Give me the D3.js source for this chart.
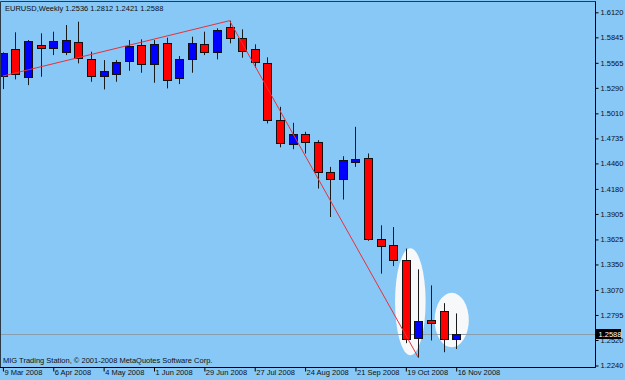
<!DOCTYPE html>
<html>
<head>
<meta charset="utf-8">
<script src="https://cdn.jsdelivr.net/npm/d3@7"></script>
<style>
  body { margin: 0; background: #87c8f6; }
  svg text { font-family: "Liberation Sans", Arial, sans-serif; font-size: 7.5px; fill: #111; }
</style>
</head>
<body>
<div id="okvir"></div>
<script>
// tjedne svijece EURUSD, ocitano sa slike
const tjedni = ["2008-03-09","2008-03-16","2008-03-23","2008-03-30","2008-04-06","2008-04-13","2008-04-20","2008-04-27",
  "2008-05-04","2008-05-11","2008-05-18","2008-05-25","2008-06-01","2008-06-08","2008-06-15","2008-06-22","2008-06-29",
  "2008-07-06","2008-07-13","2008-07-20","2008-07-27","2008-08-03","2008-08-10","2008-08-17","2008-08-24","2008-08-31",
  "2008-09-07","2008-09-14","2008-09-21","2008-09-28","2008-10-05","2008-10-12","2008-10-19","2008-10-26","2008-11-02",
  "2008-11-09","2008-11-16"];
const otvaranje = [1.5419,1.5716,1.5412,1.5760,1.5724,1.5687,1.5797,1.5606,1.5427,1.5449,1.5584,1.5760,1.5551,1.5779,1.5394,1.5614,1.5771,
  1.5687,1.5962,1.5841,1.5713,1.5566,1.4935,1.4671,1.4781,1.4697,1.4367,1.4286,1.4477,1.4514,1.3634,1.3560,1.3395,1.2533,1.2743,1.2837,1.2536];
const najvise = [1.5680,1.5900,1.5815,1.5889,1.5907,1.5980,1.6017,1.5687,1.5595,1.5595,1.5815,1.5823,1.5815,1.5841,1.5639,1.5852,1.5907,
  1.5944,1.6028,1.5933,1.5768,1.5625,1.5082,1.4906,1.4807,1.4715,1.4422,1.4539,1.4862,1.4569,1.3780,1.3761,1.3524,1.3296,1.3120,1.2925,1.2812];
const najnize = [1.5276,1.5383,1.5320,1.5412,1.5650,1.5650,1.5559,1.5357,1.5273,1.5357,1.5478,1.5456,1.5346,1.5284,1.5331,1.5456,1.5650,
  1.5603,1.5779,1.5621,1.5511,1.4899,1.4637,1.4616,1.4569,1.4184,1.3871,1.4063,1.4422,1.3610,1.3249,1.3332,1.2485,1.2325,1.2515,1.2386,1.2421];
const zatvaranje = [1.5672,1.5438,1.5804,1.5724,1.5804,1.5815,1.5621,1.5419,1.5478,1.5577,1.5753,1.5548,1.5771,1.5375,1.5603,1.5786,1.5687,
  1.5925,1.5841,1.5698,1.5570,1.4935,1.4679,1.4781,1.4697,1.4367,1.4286,1.4495,1.4506,1.3623,1.3560,1.3395,1.2523,1.2724,1.2710,1.2534,1.2588];

const cijeneOs = [1.6120,1.5845,1.5565,1.5290,1.5010,1.4735,1.4460,1.4180,1.3905,1.3625,1.3350,1.3070,1.2795,1.2520,1.2240];
const datumiOs = ["2008-03-09","2008-04-06","2008-05-04","2008-06-01","2008-06-29","2008-07-27","2008-08-24","2008-09-21","2008-10-19","2008-11-16"];
const zadnjaCijena = 1.2588;
const naslov = "EURUSD,Weekly  1.2536 1.2812 1.2421 1.2588";
const potpis = "MIG Trading Station, \u00a9 2001-2008 MetaQuotes Software Corp.";

// trend linije: [datum, cijena] -> [datum, cijena]
const trendOd = [["2008-03-09",1.5420],["2008-07-13",1.6028]];
const trendDo = [["2008-07-13",1.6028],["2008-10-26",1.2325]];
// elipse: lijevo, desno (datum), gore, dolje (cijena)
const elipseLijevo = ["2008-10-13","2008-11-04"];
const elipseDesno = ["2008-10-30","2008-11-23"];
const elipseGore = [1.3529,1.3038];
const elipseDolje = [1.2353,1.2441];

const crtajGraf = () => {
  const parse = d3.utcParse("%Y-%m-%d");

  const podatci = tjedni.map((t, i) => ({
    datum: parse(t), o: otvaranje[i], h: najvise[i], l: najnize[i], c: zatvaranje[i]
  }));

  //1. Dimenzije
  const dim = { width: 625, height: 380, desno: 595.5, dolje: 367.5, gore: 1.5 };

  const okvir = d3.select("#okvir").append("svg")
    .attr("width", dim.width)
    .attr("height", dim.height);

  okvir.append("rect").attr("width", dim.width).attr("height", dim.height).attr("fill", "#87c8f6");

  okvir.append("defs").append("clipPath").attr("id", "clip")
    .append("rect").attr("x", 0).attr("y", dim.gore).attr("width", dim.desno).attr("height", dim.dolje - dim.gore);

  //2. Mjerila
  const xMjerilo = d3.scaleUtc()
    .domain(d3.extent(podatci, d => d.datum))
    .range([2.9, 456.2]);

  const yMjerilo = d3.scaleLinear()
    .domain([1.2240, 1.6120])
    .range([365.5, 12.3]);

  const granice = okvir.append("g").attr("clip-path", "url(#clip)");

  //3. Elipse
  elipseLijevo.forEach((l, i) => {
    const x1 = xMjerilo(parse(l)), x2 = xMjerilo(parse(elipseDesno[i]));
    const y1 = yMjerilo(elipseGore[i]), y2 = yMjerilo(elipseDolje[i]);
    granice.append("ellipse")
      .attr("cx", (x1 + x2) / 2).attr("cy", (y1 + y2) / 2)
      .attr("rx", (x2 - x1) / 2).attr("ry", (y2 - y1) / 2)
      .attr("fill", "#f6f8fa");
  });

  // linija zadnje cijene
  granice.append("line")
    .attr("x1", 0).attr("x2", dim.desno)
    .attr("y1", Math.round(yMjerilo(zadnjaCijena)) + 0.5)
    .attr("y2", Math.round(yMjerilo(zadnjaCijena)) + 0.5)
    .attr("stroke", "#8a9eae").attr("stroke-width", 1);

  //4. Svijece
  const svijece = granice.selectAll(".svijeca").data(podatci).join("g").attr("class", "svijeca");

  svijece.append("line")
    .attr("x1", d => Math.round(xMjerilo(d.datum)) + 0.5)
    .attr("x2", d => Math.round(xMjerilo(d.datum)) + 0.5)
    .attr("y1", d => yMjerilo(d.h))
    .attr("y2", d => yMjerilo(d.l))
    .attr("stroke", "#1a1a1a").attr("stroke-width", 1);

  svijece.append("rect")
    .attr("x", d => Math.round(xMjerilo(d.datum)) - 3.5)
    .attr("width", 8)
    .attr("y", d => Math.round(yMjerilo(Math.max(d.o, d.c))) + 0.5)
    .attr("height", d => Math.max(2, Math.round(Math.abs(yMjerilo(d.o) - yMjerilo(d.c)))))
    .attr("fill", d => d.c >= d.o ? "#0000ff" : "#ff0000")
    .attr("stroke", "#111").attr("stroke-width", 1);

  //5. Trend linije
  trendOd.forEach((p, i) => {
    granice.append("line")
      .attr("x1", xMjerilo(parse(p[0]))).attr("y1", yMjerilo(p[1]))
      .attr("x2", xMjerilo(parse(trendDo[i][0]))).attr("y2", yMjerilo(trendDo[i][1]))
      .attr("stroke", "#e8303a").attr("stroke-width", 1);
  });

  //6. Okvir i osi
  okvir.append("path")
    .attr("d", `M0.5,${dim.dolje}V${dim.gore}H${dim.desno}V${dim.dolje}H0.5`)
    .attr("fill", "none").attr("stroke", "#2a3a48").attr("stroke-width", 1);
  okvir.append("line")
    .attr("x1", 0).attr("x2", dim.desno).attr("y1", dim.dolje).attr("y2", dim.dolje)
    .attr("stroke", "#000");
  okvir.append("line")
    .attr("x1", dim.desno).attr("x2", dim.desno).attr("y1", dim.gore).attr("y2", dim.dolje)
    .attr("stroke", "#000");

  const yOs = okvir.append("g")
    .attr("transform", `translate(${dim.desno},0)`)
    .call(d3.axisRight(yMjerilo).tickValues(cijeneOs).tickSize(3).tickPadding(2).tickFormat(d3.format(".4f")));
  yOs.select(".domain").remove();
  yOs.selectAll("line").attr("stroke", "#000");
  yOs.selectAll("text").style("font-family", null).style("font-size", null).attr("fill", "#111");
  yOs.attr("font-family", null).attr("font-size", null);

  const xOs = okvir.append("g")
    .attr("transform", `translate(0,${dim.dolje})`)
    .call(d3.axisBottom(xMjerilo).tickValues(datumiOs.map(parse)).tickSize(4).tickFormat(d3.utcFormat("%-d %b %Y")));
  xOs.select(".domain").remove();
  xOs.selectAll("line").attr("stroke", "#000");
  xOs.selectAll("text").attr("text-anchor", "start").attr("x", 1).attr("y", 2).attr("dy", "0.71em").attr("fill", "#111");
  xOs.attr("font-family", null).attr("font-size", null);

  // oznaka zadnje cijene
  const yz = Math.round(yMjerilo(zadnjaCijena));
  okvir.append("rect")
    .attr("x", dim.desno + 0.5).attr("y", yz - 5).attr("width", 25).attr("height", 10)
    .attr("fill", "#000");
  okvir.append("text")
    .attr("x", dim.desno + 3).attr("y", yz + 2.7)
    .style("fill", "#fff")
    .text(d3.format(".4f")(zadnjaCijena));

  //7. Tekstovi
  okvir.append("text").attr("x", 5).attr("y", 10.5).text(naslov);
  okvir.append("text").attr("x", 3).attr("y", 363).text(potpis);
};

crtajGraf();
</script>
</body>
</html>
